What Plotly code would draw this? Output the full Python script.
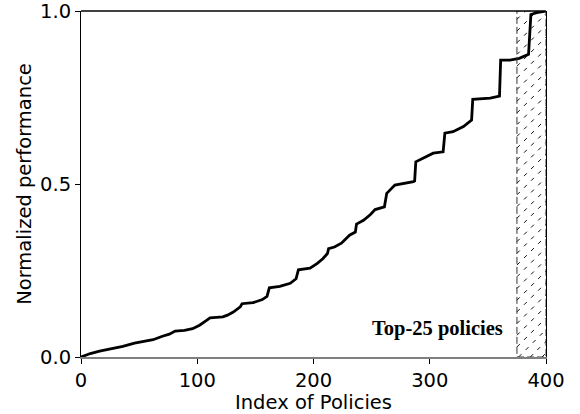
import plotly.graph_objects as go

# ---- data ----
policy_index = [0, 8, 16, 27, 36, 46, 53, 62, 70, 76, 81, 89, 96, 102, 108, 111, 122, 126,
                131, 137, 138.5, 148, 156, 160, 162, 171, 180, 185, 187, 197, 203, 208, 212,
                213, 218, 224, 231, 235, 236, 237, 243, 249, 253, 261, 263, 270, 279, 286,
                287, 288, 303, 311.5, 313, 320, 329, 336, 337, 352, 360, 361, 369, 377, 385,
                387, 392, 400]
performance = [0, 0.010, 0.017, 0.024, 0.031, 0.040, 0.044, 0.050, 0.060, 0.066, 0.075, 0.077,
               0.082, 0.092, 0.106, 0.113, 0.116, 0.121, 0.130, 0.145, 0.154, 0.157, 0.166,
               0.175, 0.200, 0.204, 0.213, 0.226, 0.252, 0.257, 0.270, 0.284, 0.299, 0.313,
               0.318, 0.329, 0.352, 0.358, 0.361, 0.384, 0.395, 0.412, 0.426, 0.434, 0.473,
               0.497, 0.502, 0.507, 0.509, 0.564, 0.589, 0.593, 0.647, 0.651, 0.666, 0.685,
               0.745, 0.748, 0.754, 0.858, 0.858, 0.863, 0.875, 0.990, 0.995, 1.0]
n_policies = 400
top_k = 25
x_ticks = [0, 100, 200, 300, 400]
y_ticks = [0.0, 0.5, 1.0]
annotation_text = "Top-25 policies"

# ---- layout geometry ----
W, H = 580, 414
ml, mr, mt, mb = 81, 34, 11, 57
pw, ph = W - ml - mr, H - mt - mb
x0_reg, x1_reg = n_policies - top_k, n_policies

fig = go.Figure()

# hatch lines (45 degrees in pixel space) inside top-k region
px_per_x = pw / n_policies
px_per_y = ph / 1.0
reg_w_px = (x1_reg - x0_reg) * px_per_x
spacing_px = 11.7
hx, hy = [], []
c = -reg_w_px + 4
while c < ph + spacing_px:
    ya, yb = c, c + reg_w_px
    xa, xb = 0.0, reg_w_px
    if yb <= 0 or ya >= ph:
        c += spacing_px
        continue
    if ya < 0:
        xa = -ya
        ya = 0
    if yb > ph:
        xb = xb - (yb - ph)
        yb = ph
    hx += [x0_reg + xa / px_per_x, x0_reg + xb / px_per_x, None]
    hy += [ya / px_per_y, yb / px_per_y, None]
    c += spacing_px

fig.add_trace(go.Scatter(x=hx, y=hy, mode="lines",
                         line=dict(color="#111111", width=1, dash="4px,6px"),
                         hoverinfo="skip", showlegend=False))

fig.add_trace(go.Scatter(x=policy_index, y=performance, mode="lines",
                         line=dict(color="black", width=2.8),
                         showlegend=False))

# dashed border of region
fig.add_shape(type="rect", x0=x0_reg, x1=x1_reg, y0=0, y1=1, xref="x", yref="y",
              line=dict(color="#333333", width=1, dash="7px,3px"), layer="above")
# top spine
fig.add_shape(type="line", x0=0, x1=1, y0=1, y1=1, xref="x domain", yref="y domain",
              line=dict(color="black", width=1.4), layer="above")

fig.add_annotation(x=307, y=0.081, xref="x", yref="y", text="<b>" + annotation_text + "</b>",
                   showarrow=False,
                   font=dict(family="Liberation Serif, Times New Roman, serif", size=20.5, color="black"))

axis_font = dict(family="DejaVu Sans, sans-serif", size=19.5, color="black")
fig.update_layout(
    width=W, height=H,
    margin=dict(l=ml, r=mr, t=mt, b=mb, pad=0),
    paper_bgcolor="white", plot_bgcolor="white",
    font=axis_font,
    xaxis=dict(range=[0, n_policies], tickvals=x_ticks, ticks="outside", ticklen=5,
               tickwidth=1, tickcolor="black", showgrid=False, zeroline=False,
               showline=True, linecolor="#7f7f7f", linewidth=1.5, automargin=False,
               ticklabeloverflow="allow", tickfont=axis_font,
               title=dict(text="Index of Policies", font=axis_font, standoff=0)),
    yaxis=dict(range=[0, 1], tickvals=y_ticks, tickformat=".1f", ticks="outside", ticklen=5,
               tickwidth=1, tickcolor="black", showgrid=False, zeroline=False,
               showline=True, linecolor="black", linewidth=1, mirror=True, automargin=False,
               ticklabeloverflow="allow", tickfont=axis_font,
               title=dict(text="Normalized performance", font=axis_font, standoff=3)),
)

fig.write_html("out.html", config={"displayModeBar": False},
               post_script="document.body.style.margin='0';document.body.style.overflow='hidden';")
